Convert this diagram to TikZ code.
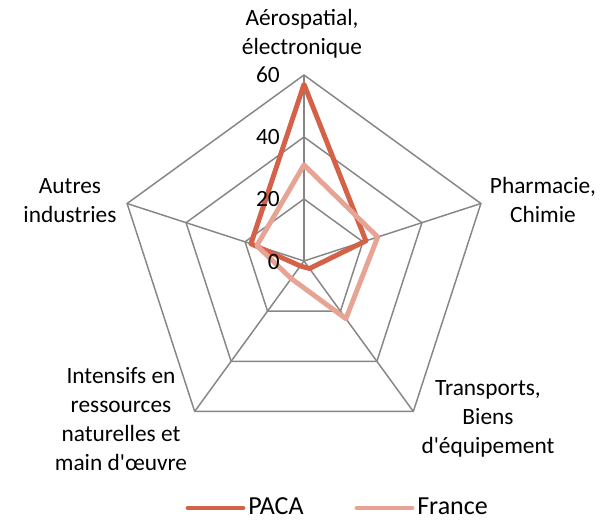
\documentclass[tikz,border=0pt]{standalone}
\usepackage{fontspec}
\setmainfont{Carlito}
\definecolor{paca}{RGB}{211,98,72}
\definecolor{france}{RGB}{231,163,147}
\definecolor{gridgray}{RGB}{134,134,134}

\begin{document}
\begin{tikzpicture}[x=0.75pt,y=0.75pt,
	ring/.style={gridgray, line width=1.1pt},
	serie/.style={line width=3.7pt, line join=round},
	lbl/.style={align=center, inner sep=0pt, font=\fontsize{17.5}{21.75}\selectfont},
	tick/.style={anchor=east, inner sep=0pt, font=\fontsize{17.5}{20}\selectfont},
	leg/.style={anchor=west, inner sep=0pt, font=\fontsize{19.5}{22}\selectfont}]
\useasboundingbox (-304,-259) rectangle (296,261);
% the grid
\coordinate (c) at (0,0);
\foreach \a [count=\i] in {90,18,-54,-126,162}
	\coordinate (v\i) at (\a:186);
\foreach \r in {62,124,186}
	\draw[ring] (90:\r) -- (18:\r) -- (-54:\r) -- (-126:\r) -- (162:\r) -- cycle;
\foreach \i in {1,...,5}
	\draw[ring] (c) -- (v\i);
% the two series
\foreach \a/\v [count=\i] in {90/57,18/21,-54/3,-126/2,162/18}
	\coordinate (paca\i) at (\a:{\v*3.1});
\foreach \a/\v [count=\i] in {90/31,18/25,-54/23,-126/7,162/16}
	\coordinate (fr\i) at (\a:{\v*3.1});
\draw[serie, paca] (paca1) -- (paca2) -- (paca3) -- (paca4) -- (paca5) -- cycle;
\draw[serie, france] (fr1) -- (fr2) -- (fr3) -- (fr4) -- (fr5) -- cycle;
% scale
\node[tick] (t0) at (-24,-1) {0};
\node[tick] (t20) at (-24,62) {20};
\node[tick] (t40) at (-24,124) {40};
\node[tick] (t60) at (-24,186) {60};
% categories
\node[lbl] (aero) at (-2,227) {Aérospatial,\\électronique};
\node[lbl] (pharma) at (239,61) {Pharmacie,\\Chimie};
\node[lbl] (transp) at (184,-158) {Transports,\\Biens\\d\textquotesingle équipement};
\node[lbl] (intens) at (-183,-158) {Intensifs en\\ressources\\naturelles et\\main d\textquotesingle œuvre};
\node[lbl] (autres) at (-234,60) {Autres\\industries};
% legend
\coordinate (lp1) at (-116,-247);
\coordinate (lp2) at (-61,-247);
\draw[serie, paca, line cap=round] (lp1) -- (lp2);
\node[leg] (lpaca) at (-56,-245) {PACA};
\coordinate (lf1) at (53,-247);
\coordinate (lf2) at (108,-247);
\draw[serie, france, line cap=round] (lf1) -- (lf2);
\node[leg] (lfrance) at (113,-245) {France};
\end{tikzpicture}
\end{document}
